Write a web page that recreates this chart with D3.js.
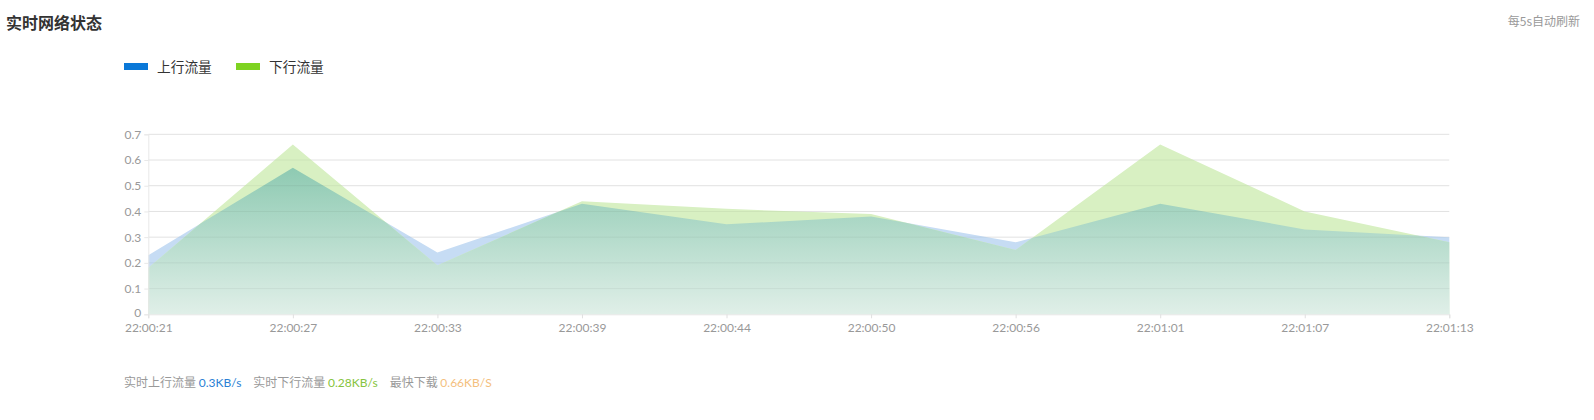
<!DOCTYPE html>
<html><head><meta charset="utf-8">
<script src="https://cdn.jsdelivr.net/npm/d3@7/dist/d3.min.js"></script>
<style>
body{margin:0;background:#fff;}
svg{display:block;font-family:Lato,"Noto Sans CJK SC",sans-serif;}
</style></head>
<body>
<svg id="c" width="1594" height="420"></svg>
<script>
const categories = ["22:00:21","22:00:27","22:00:33","22:00:39","22:00:44","22:00:50","22:00:56","22:01:01","22:01:07","22:01:13"];
const upValues   = [0.23,0.57,0.24,0.43,0.35,0.38,0.28,0.43,0.33,0.30];
const downValues = [0.18,0.66,0.19,0.44,0.41,0.39,0.25,0.66,0.40,0.28];
const yTicks = [0,0.1,0.2,0.3,0.4,0.5,0.6,0.7];
const seriesNames = ["上行流量","下行流量"];
const title = "实时网络状态";
const refreshNote = "每5s自动刷新";
const footer = [
  {label:"实时上行流量 ", value:"0.3KB/s", color:"#2b7fd4"},
  {label:"实时下行流量 ", value:"0.28KB/s", color:"#86c440"},
  {label:"最快下载 ", value:"0.66KB/S", color:"#f4c07e"}
];

const svg = d3.select("#c");
const x = d3.scalePoint().domain(categories).range([148.3,1449.3]);
const y = d3.scaleLinear().domain([0,0.7]).range([314.3,134.3]);

// title
svg.append("text").attr("x",6).attr("y",29).attr("font-size",16).attr("font-weight","bold")
  .attr("fill","#333").attr("font-family","'Noto Sans CJK SC',sans-serif").text(title);
svg.append("text").attr("x",1580).attr("y",26).attr("text-anchor","end").attr("font-size",12)
  .attr("fill","#999").attr("font-family","'Noto Sans CJK SC',sans-serif").text(refreshNote);

// legend
const legColors = ["#0a78d8","#7ed321"];
const legX = [124,236];
seriesNames.forEach((n,i)=>{
  svg.append("rect").attr("x",legX[i]).attr("y",63).attr("width",24).attr("height",7).attr("fill",legColors[i]);
  svg.append("text").attr("x",legX[i]+33).attr("y",71.5).attr("font-size",13.7).attr("fill","#333")
    .attr("font-family","'Noto Sans CJK SC',sans-serif").text(n);
});

// defs
const defs = svg.append("defs");
const grad = defs.append("linearGradient").attr("id","ov").attr("gradientUnits","userSpaceOnUse")
  .attr("x1",0).attr("x2",0).attr("y1",y(0.57)).attr("y2",y(0));
grad.append("stop").attr("offset","0%").attr("stop-color","#8ecab2");
grad.append("stop").attr("offset","100%").attr("stop-color","#e0efe8");

const areaGen = vals => d3.area().x((d,i)=>x(categories[i])).y0(y(0)).y1(d=>y(d))(vals);

defs.append("clipPath").attr("id","downClip").append("path").attr("d",areaGen(downValues));

// grid (behind)
svg.append("g").selectAll("line").data(yTicks.slice(1)).join("line")
  .attr("x1",x.range()[0]).attr("x2",x.range()[1])
  .attr("y1",d=>y(d)).attr("y2",d=>y(d)).attr("stroke","#eeeeee");

// areas
svg.append("path").attr("d",areaGen(upValues)).attr("fill","#c6dcf4");
svg.append("path").attr("d",areaGen(downValues)).attr("fill","#d8f0c2");
svg.append("path").attr("d",areaGen(upValues)).attr("fill","url(#ov)").attr("clip-path","url(#downClip)");

// grid over areas (faint)
svg.append("g").selectAll("line").data(yTicks.slice(1)).join("line")
  .attr("x1",x.range()[0]).attr("x2",x.range()[1])
  .attr("y1",d=>y(d)).attr("y2",d=>y(d)).attr("stroke","rgba(0,0,0,0.05)");

// y axis
const yAxis = d3.axisLeft(y).tickValues(yTicks).tickSize(4).tickPadding(3).tickFormat(d=>d===0?"0":d3.format(".1f")(d));
const gy = svg.append("g").attr("transform",`translate(${x.range()[0]},0)`).call(yAxis);
gy.select(".domain").attr("stroke","#e8e8e8");
gy.selectAll(".tick line").attr("stroke","#e8e8e8");
gy.selectAll("text").attr("fill","#999").attr("font-size",12).attr("font-family","Lato,sans-serif");
gy.selectAll(".tick").filter(d=>d===0).select("text").attr("dy","0.2em");

// x axis
const xAxis = d3.axisBottom(x).tickSize(4).tickPadding(5);
const gx = svg.append("g").attr("transform",`translate(0,${y(0)})`).call(xAxis);
gx.select(".domain").attr("stroke","#e8e8e8");
gx.selectAll(".tick line").attr("stroke","#e0e0e0");
gx.selectAll("text").attr("fill","#999").attr("font-size",12).attr("font-family","Lato,sans-serif");

// footer
const ft = svg.append("text").attr("x",124).attr("y",387).attr("font-size",12)
  .attr("font-family","'Noto Sans CJK SC',sans-serif");
footer.forEach((f,i)=>{
  ft.append("tspan").attr("fill","#999").attr("dx",i?12:0).text(f.label);
  ft.append("tspan").attr("fill",f.color).attr("font-family","Lato,'Noto Sans CJK SC',sans-serif").text(f.value);
});
</script>
</body></html>
